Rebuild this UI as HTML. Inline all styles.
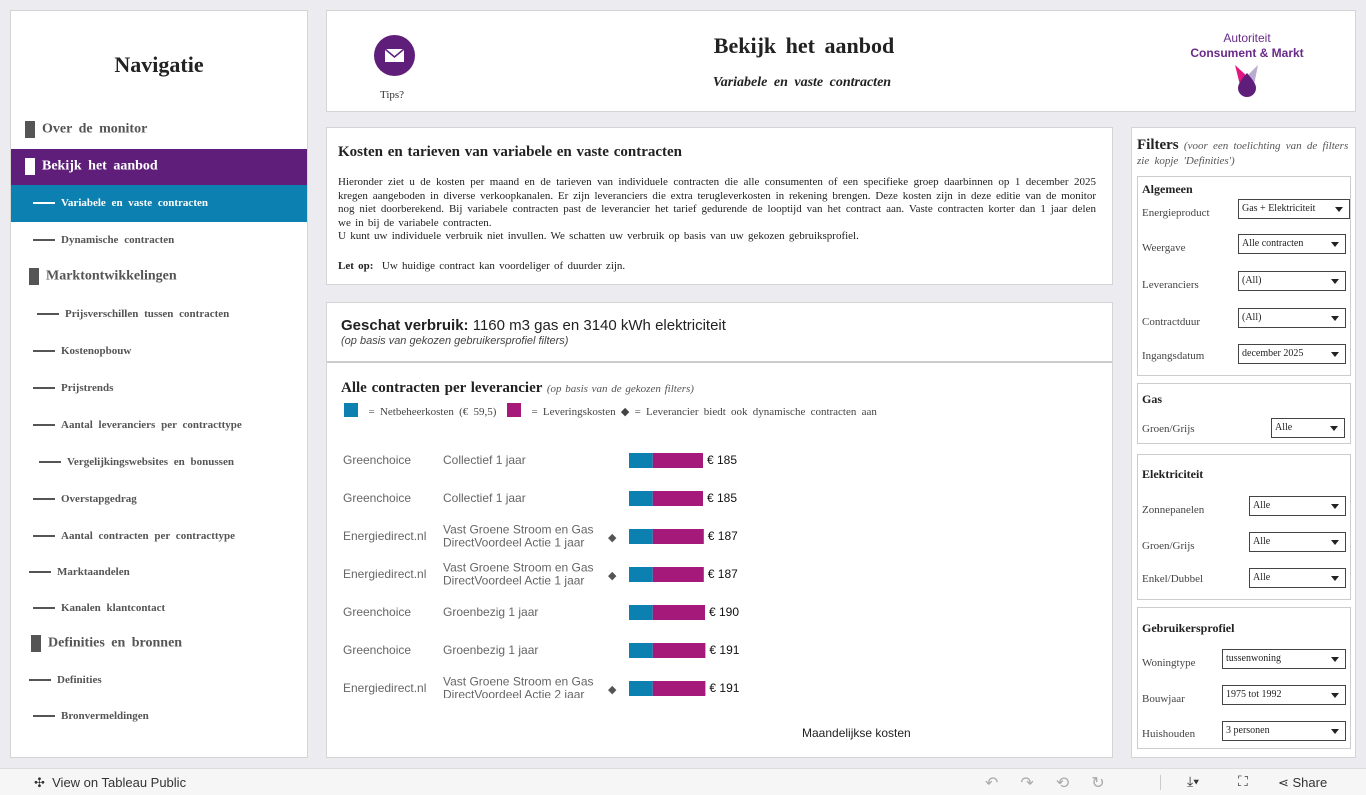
<!DOCTYPE html>
<html><head><meta charset="utf-8">
<style>
*{box-sizing:border-box;margin:0;padding:0}
body{width:1366px;height:795px;background:#ececf0;font-family:"Liberation Serif",serif;position:relative;overflow:hidden;color:#333}
.abs{position:absolute}
.panel{position:absolute;background:#fff;border:1px solid #d4d4d4}
.nav{position:absolute;left:0;width:296px;font-family:"Liberation Serif",serif;font-weight:bold;font-size:11px;color:#555;word-spacing:3px}
.nav .dash{display:inline-block;width:22px;height:2px;background:#555;vertical-align:middle;margin-right:6px}
.nav .sq{display:inline-block;width:10px;height:17px;background:#555;vertical-align:middle;margin-right:7px}
.big{font-size:14px}
.flabel{position:absolute;left:10px;font-size:11px;color:#444}
.dd{position:absolute;height:20px;border:1px solid #444;background:#fff;font-size:10px;padding:0 0 0 3px;line-height:18px;color:#222}
.dd:after{content:"";position:absolute;right:6px;top:7px;border-left:4px solid transparent;border-right:4px solid transparent;border-top:5px solid #222}
.fbox{position:absolute;left:5px;width:214px;border:1px solid #ccc;background:#fff}
.fbox h4{position:absolute;left:4px;font-size:12px;color:#222}
</style></head><body>
<!-- Navigation -->
<div class="panel" style="left:10px;top:10px;width:298px;height:748px">
 <div class="abs" style="left:0;width:296px;top:41px;text-align:center;font-size:22px;font-weight:bold;color:#222">Navigatie</div>
 <div class="nav big" style="top:110px;padding-left:14px"><span class="sq"></span>Over de monitor</div>
 <div class="nav big" style="top:138px;height:36px;background:#5f1e7a;color:#fff;padding:9px 0 0 14px"><span class="sq" style="background:#fff"></span>Bekijk het aanbod</div>
 <div class="nav" style="top:174px;height:37px;background:#0b80b1;color:#fff;padding:12px 0 0 22px"><span class="dash" style="background:#fff"></span>Variabele en vaste contracten</div>
 <div class="nav" style="top:223px;padding-left:22px"><span class="dash"></span>Dynamische contracten</div>
 <div class="nav big" style="top:257px;padding-left:18px"><span class="sq"></span>Marktontwikkelingen</div>
 <div class="nav" style="top:297px;padding-left:26px"><span class="dash"></span>Prijsverschillen tussen contracten</div>
 <div class="nav" style="top:334px;padding-left:22px"><span class="dash"></span>Kostenopbouw</div>
 <div class="nav" style="top:371px;padding-left:22px"><span class="dash"></span>Prijstrends</div>
 <div class="nav" style="top:408px;padding-left:22px"><span class="dash"></span>Aantal leveranciers per contracttype</div>
 <div class="nav" style="top:445px;padding-left:28px"><span class="dash"></span>Vergelijkingswebsites en bonussen</div>
 <div class="nav" style="top:482px;padding-left:22px"><span class="dash"></span>Overstapgedrag</div>
 <div class="nav" style="top:519px;padding-left:22px"><span class="dash"></span>Aantal contracten per contracttype</div>
 <div class="nav" style="top:555px;padding-left:18px"><span class="dash"></span>Marktaandelen</div>
 <div class="nav" style="top:591px;padding-left:22px"><span class="dash"></span>Kanalen klantcontact</div>
 <div class="nav big" style="top:624px;padding-left:20px"><span class="sq"></span>Definities en bronnen</div>
 <div class="nav" style="top:663px;padding-left:18px"><span class="dash"></span>Definities</div>
 <div class="nav" style="top:699px;padding-left:22px"><span class="dash"></span>Bronvermeldingen</div>
</div>
<!-- Header -->
<div class="panel" style="left:326px;top:10px;width:1030px;height:102px">
 <div class="abs" style="left:47px;top:24px;width:41px;height:41px;border-radius:50%;background:#5f1e7a">
  <svg width="41" height="41"><rect x="11" y="14" width="19" height="13" fill="#fff"/><polyline points="11,14 20.5,22 30,14" fill="none" stroke="#5f1e7a" stroke-width="1.5"/></svg></div>
 <div class="abs" style="left:53px;top:78px;font-size:11px;color:#333">Tips?</div>
 <div class="abs" style="left:0;width:954px;top:22px;text-align:center;font-size:22px;font-weight:bold;color:#222;word-spacing:4px">Bekijk het aanbod</div>
 <div class="abs" style="left:0;width:950px;top:64px;text-align:center;font-size:14px;font-weight:bold;font-style:italic;color:#222;word-spacing:3px">Variabele en vaste contracten</div>
 <div class="abs" style="left:850px;top:20px;width:140px;text-align:center;font-family:'Liberation Sans',sans-serif;color:#6a2a8a;font-size:12px;line-height:15px">Autoriteit<br><b>Consument &amp; Markt</b>
  <svg width="30" height="34" style="display:block;margin:2px auto 0"><polygon points="3,2 16,14 8,22" fill="#e0177f"/><polygon points="26,2 14,14 22,22" fill="#b8acd0"/><path d="M15,10 C8,18 6,22 6,25 A9,9 0 0 0 24,25 C24,22 22,18 15,10Z" fill="#5f1e7a"/></svg></div>
</div>
<!-- Intro -->
<div class="panel" style="left:326px;top:127px;width:787px;height:158px">
 <div class="abs" style="left:11px;top:16px;font-size:15px;font-weight:bold;color:#222;word-spacing:1px">Kosten en tarieven van variabele en vaste contracten</div>
 <div class="abs" style="left:11px;top:48px;width:758px;font-size:11px;line-height:13.5px;color:#222;text-align:justify;word-spacing:1.5px">Hieronder ziet u de kosten per maand en de tarieven van individuele contracten die alle consumenten of een specifieke groep daarbinnen op 1 december 2025 kregen aangeboden in diverse verkoopkanalen. Er zijn leveranciers die extra terugleverkosten in rekening brengen. Deze kosten zijn in deze editie van de monitor nog niet doorberekend. Bij variabele contracten past de leverancier het tarief gedurende de looptijd van het contract aan. Vaste contracten korter dan 1 jaar delen we in bij de variabele contracten.<br>U kunt uw individuele verbruik niet invullen. We schatten uw verbruik op basis van uw gekozen gebruiksprofiel.</div>
 <div class="abs" style="left:11px;top:132px;font-size:11px;color:#222;word-spacing:1.5px"><b>Let op:</b>&nbsp; Uw huidige contract kan voordeliger of duurder zijn.</div>
</div>
<!-- Chart panel -->
<div class="panel" style="left:326px;top:302px;width:787px;height:456px">
 <div class="abs" style="left:14px;top:14px;font-family:'Liberation Sans',sans-serif;font-size:15px;color:#222"><b>Geschat verbruik:</b> 1160 m3 gas en 3140 kWh elektriciteit</div>
 <div class="abs" style="left:14px;top:32px;font-family:'Liberation Sans',sans-serif;font-size:11px;font-style:italic;color:#444">(op basis van gekozen gebruikersprofiel filters)</div>
 <div class="abs" style="left:0;top:58px;width:785px;height:2px;background:#ccc"></div>
 <div class="abs" style="left:14px;top:77px;font-size:15px;font-weight:bold;color:#222;word-spacing:1px">Alle contracten per leverancier <span style="font-size:11px;font-weight:normal;font-style:italic;color:#555;word-spacing:1px">(op basis van de gekozen filters)</span></div>
 <div class="abs" style="left:17px;top:100px;font-size:11px;color:#444;white-space:nowrap;word-spacing:2.5px">
  <span style="display:inline-block;width:14px;height:14px;background:#0b80b1;vertical-align:-2px"></span>&nbsp; = Netbeheerkosten (€ 59,5)&nbsp;
  <span style="display:inline-block;width:14px;height:14px;background:#a5197a;vertical-align:-2px"></span>&nbsp; = Leveringskosten ◆ = Leverancier biedt ook dynamische contracten aan</div>
 <svg id="chart" class="abs" style="left:0;top:130px" width="785" height="265"></svg>
 <div class="abs" style="left:475px;top:423px;font-family:'Liberation Sans',sans-serif;font-size:12px;color:#222">Maandelijkse kosten</div>
</div>
<!-- Filters -->
<div class="panel" style="left:1131px;top:127px;width:225px;height:631px">
 <div class="abs" style="left:5px;top:10px;width:215px;font-size:11px;line-height:15px;font-style:italic;color:#555;word-spacing:2.5px"><b style="font-size:15px;font-style:normal;color:#222;word-spacing:0">Filters</b> (voor een toelichting van de filters zie kopje 'Definities')</div>
 <div class="fbox" style="top:48px;height:200px">
  <h4 style="top:5px">Algemeen</h4>
  <div class="flabel" style="left:4px;top:30px">Energieproduct</div><div class="dd" style="left:100px;top:22px;width:112px">Gas + Elektriciteit</div>
  <div class="flabel" style="left:4px;top:65px">Weergave</div><div class="dd" style="left:100px;top:57px;width:108px">Alle contracten</div>
  <div class="flabel" style="left:4px;top:102px">Leveranciers</div><div class="dd" style="left:100px;top:94px;width:108px">(All)</div>
  <div class="flabel" style="left:4px;top:139px">Contractduur</div><div class="dd" style="left:100px;top:131px;width:108px">(All)</div>
  <div class="flabel" style="left:4px;top:173px">Ingangsdatum</div><div class="dd" style="left:100px;top:167px;width:108px">december 2025</div>
 </div>
 <div class="fbox" style="top:255px;height:61px">
  <h4 style="top:8px">Gas</h4>
  <div class="flabel" style="left:4px;top:39px">Groen/Grijs</div><div class="dd" style="left:133px;top:34px;width:74px">Alle</div>
 </div>
 <div class="fbox" style="top:326px;height:146px">
  <h4 style="top:12px">Elektriciteit</h4>
  <div class="flabel" style="left:4px;top:49px">Zonnepanelen</div><div class="dd" style="left:111px;top:41px;width:97px">Alle</div>
  <div class="flabel" style="left:4px;top:85px">Groen/Grijs</div><div class="dd" style="left:111px;top:77px;width:97px">Alle</div>
  <div class="flabel" style="left:4px;top:118px">Enkel/Dubbel</div><div class="dd" style="left:111px;top:113px;width:97px">Alle</div>
 </div>
 <div class="fbox" style="top:479px;height:142px">
  <h4 style="top:13px">Gebruikersprofiel</h4>
  <div class="flabel" style="left:4px;top:49px">Woningtype</div><div class="dd" style="left:84px;top:41px;width:124px">tussenwoning</div>
  <div class="flabel" style="left:4px;top:85px">Bouwjaar</div><div class="dd" style="left:84px;top:77px;width:124px">1975 tot 1992</div>
  <div class="flabel" style="left:4px;top:120px">Huishouden</div><div class="dd" style="left:84px;top:113px;width:124px">3 personen</div>
 </div>
</div>
<!-- Toolbar -->
<div class="abs" style="left:0;top:768px;width:1366px;height:27px;background:#f6f6f6;border-top:1px solid #ddd;font-family:'Liberation Sans',sans-serif;font-size:13px;color:#333">
 <div class="abs" style="left:34px;top:6px">✣ &nbsp;View on Tableau Public</div>
 <div class="abs" style="left:985px;top:4px;color:#aaa;font-size:16px;letter-spacing:22px">↶↷⟲↻</div>
 <div class="abs" style="left:1160px;top:6px;width:1px;height:15px;background:#ccc"></div>
 <div class="abs" style="left:1187px;top:4px;font-size:14px">⤓▾</div>
 <div class="abs" style="left:1238px;top:4px;font-size:14px">⛶</div>
 <div class="abs" style="left:1278px;top:6px">⋖ Share</div>
</div>
<script>
const suppliers=["Greenchoice","Greenchoice","Energiedirect.nl","Energiedirect.nl","Greenchoice","Greenchoice","Energiedirect.nl"];
const contracts=[["Collectief 1 jaar"],["Collectief 1 jaar"],["Vast Groene Stroom en Gas","DirectVoordeel Actie 1 jaar"],["Vast Groene Stroom en Gas","DirectVoordeel Actie 1 jaar"],["Groenbezig 1 jaar"],["Groenbezig 1 jaar"],["Vast Groene Stroom en Gas","DirectVoordeel Actie 2 jaar"]];
const totals=[185,185,187,187,190,191,191];
const netbeheer=[59.5,59.5,59.5,59.5,59.5,59.5,59.5];
const dynamic=[false,false,true,true,false,false,true];
const svg=document.getElementById('chart');
const NS='http://www.w3.org/2000/svg';
const x=v=>302+v*0.4;
const y=i=>27+i*38;
function mk(t,a){const e=document.createElementNS(NS,t);for(const k in a)e.setAttribute(k,a[k]);svg.appendChild(e);return e;}
totals.forEach((tot,i)=>{
 const cy=y(i);
 let t=mk('text',{x:16,y:cy+4,'font-family':'Liberation Sans, sans-serif','font-size':12,fill:'#666'});t.textContent=suppliers[i];
 
 
 const lines=contracts[i];
 lines.forEach((l,j)=>{const tt=mk('text',{x:116,y:cy+4+(lines.length>1?(j?6.5:-6.5):0),'font-family':'Liberation Sans, sans-serif','font-size':12,fill:'#666'});tt.textContent=l;
  
  });
 if(dynamic[i]){const d=mk('text',{x:281,y:cy+5,'font-size':11,fill:'#555'});d.textContent='◆';
  
  }
 const b1=mk('rect',{x:x(0),y:cy-7,width:x(netbeheer[i])-x(0),height:15,fill:'#0b80b1'});
 
 
 const b2=mk('rect',{x:x(netbeheer[i]),y:cy-7,width:x(tot)-x(netbeheer[i]),height:15,fill:'#a5197a'});
 
 
 const v=mk('text',{x:x(tot)+4,y:cy+4,'font-family':'Liberation Sans, sans-serif','font-size':12,fill:'#111'});v.textContent='€ '+tot;
 
 
});
</script>
</body></html>
